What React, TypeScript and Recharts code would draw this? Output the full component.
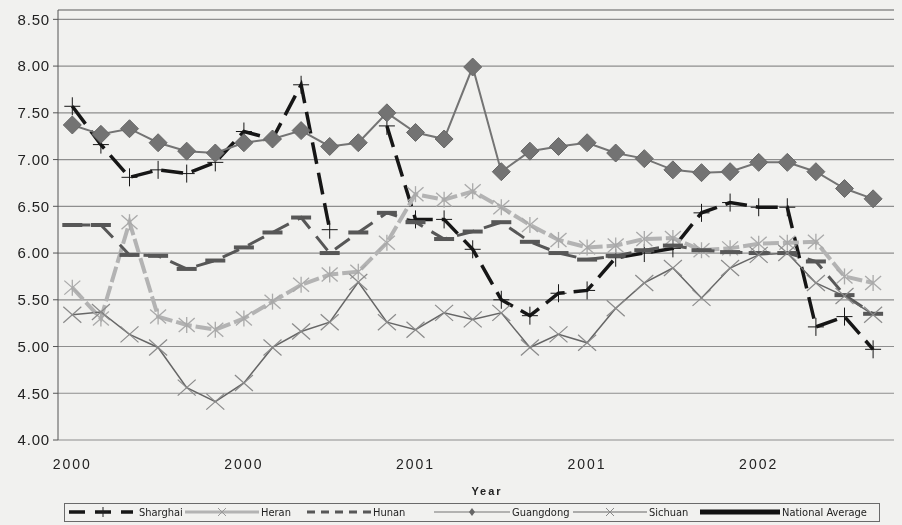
import React from "react";
import {
  ComposedChart,
  Line,
  XAxis,
  YAxis,
  CartesianGrid,
  ReferenceLine,
} from "recharts";

// monthly observations, Jan 2000 .. May 2002
const periods = [
  "2000-01", "2000-02", "2000-03", "2000-04", "2000-05", "2000-06",
  "2000-07", "2000-08", "2000-09", "2000-10", "2000-11", "2000-12",
  "2001-01", "2001-02", "2001-03", "2001-04", "2001-05", "2001-06",
  "2001-07", "2001-08", "2001-09", "2001-10", "2001-11", "2001-12",
  "2002-01", "2002-02", "2002-03", "2002-04", "2002-05",
];

const shanghai = [
  7.57, 7.16, 6.81, 6.89, 6.85, 6.97, 7.3, 7.22, 7.8, 6.25, null, 7.36, 6.36,
  6.36, 6.04, 5.5, 5.33, 5.57, 5.6, 5.95, 6.0, 6.05, 6.43, 6.54, 6.49, 6.49,
  5.21, 5.32, 4.97,
];
const henan = [
  5.63, 5.3, 6.33, 5.32, 5.23, 5.18, 5.3, 5.48, 5.66, 5.77, 5.8, 6.11, 6.63,
  6.57, 6.66, 6.49, 6.3, 6.14, 6.06, 6.08, 6.15, 6.16, 6.03, 6.05, 6.1, 6.11,
  6.12, 5.75, 5.68,
];
const hunan = [
  6.3, 6.3, 5.98, 5.97, 5.83, 5.92, 6.06, 6.22, 6.38, 6.0, 6.22, 6.43, 6.33,
  6.15, 6.23, 6.33, 6.12, 6.0, 5.93, 5.97, 6.03, 6.08, 6.03, 6.01, 6.0, 6.0,
  5.91, 5.55, 5.35,
];
const guangdong = [
  7.37, 7.27, 7.33, 7.18, 7.09, 7.07, 7.18, 7.22, 7.31, 7.14, 7.18, 7.5, 7.29,
  7.22, 7.99, 6.87, 7.09, 7.14, 7.18, 7.07, 7.01, 6.89, 6.86, 6.87, 6.97, 6.97,
  6.87, 6.69, 6.58,
];
const sichuan = [
  5.34, 5.37, 5.13, 4.99, 4.56, 4.41, 4.61, 4.99, 5.16, 5.26, 5.69, 5.26, 5.18,
  5.36, 5.29, 5.36, 4.99, 5.13, 5.04, 5.41, 5.68, 5.84, 5.52, 5.84, 5.98, 6.0,
  5.68, 5.54, 5.34,
];

const yTicks = [4, 4.5, 5, 5.5, 6, 6.5, 7, 7.5, 8, 8.5];
const yearLabelIdx = [0, 6, 12, 18, 24];
const slotCount = 30;

const data = periods.map((p, i) => ({
  x: i + 0.5,
  period: p,
  shanghai: shanghai[i],
  henan: henan[i],
  hunan: hunan[i],
  guangdong: guangdong[i],
  sichuan: sichuan[i],
}));

const slotTicks = Array.from({ length: slotCount + 1 }, (_, i) => i);
const labelTicks = yearLabelIdx.map((i) => i + 0.5);

const C = {
  shanghai: "#161616",
  henan: "#b3b3b3",
  hunan: "#575757",
  guangdong: "#747474",
  sichuan: "#666666",
  grid: "#8e8e8e",
};

const ok = (p: any) => p.cx != null && p.cy != null && p.value != null;

const PlusDot = (p: any) => {
  if (!ok(p)) return <g key={`pl-${p.index}`} />;
  const { cx, cy } = p;
  return (
    <g key={`pl-${p.index}`} stroke={C.shanghai} strokeWidth={1}>
      <line x1={cx - 8} x2={cx + 8} y1={cy} y2={cy} />
      <line x1={cx} x2={cx} y1={cy - 9} y2={cy + 9} />
    </g>
  );
};

const StarDot = (p: any) => {
  if (!ok(p)) return <g key={`st-${p.index}`} />;
  const { cx, cy } = p;
  return (
    <g key={`st-${p.index}`} stroke="#a9a9a9" strokeWidth={1.3}>
      <line x1={cx - 8} x2={cx + 8} y1={cy - 7} y2={cy + 7} />
      <line x1={cx - 8} x2={cx + 8} y1={cy + 7} y2={cy - 7} />
      <line x1={cx} x2={cx} y1={cy - 8} y2={cy + 8} />
    </g>
  );
};

const BarDot = (p: any) => {
  if (!ok(p)) return <g key={`ba-${p.index}`} />;
  const { cx, cy } = p;
  return (
    <rect
      key={`ba-${p.index}`}
      x={cx - 10}
      y={cy - 2}
      width={20}
      height={4}
      fill={C.hunan}
    />
  );
};

const DiamondDot = (p: any) => {
  if (!ok(p)) return <g key={`di-${p.index}`} />;
  const { cx, cy } = p;
  const r = 9;
  return (
    <polygon
      key={`di-${p.index}`}
      points={`${cx},${cy - r} ${cx + r},${cy} ${cx},${cy + r} ${cx - r},${cy}`}
      fill="#737373"
      stroke="#676767"
    />
  );
};

const CrossDot = (p: any) => {
  if (!ok(p)) return <g key={`cr-${p.index}`} />;
  const { cx, cy } = p;
  return (
    <g key={`cr-${p.index}`} stroke="#8a8a8a" strokeWidth={1.2}>
      <line x1={cx - 9} x2={cx + 9} y1={cy - 8} y2={cy + 8} />
      <line x1={cx - 9} x2={cx + 9} y1={cy + 8} y2={cy - 8} />
    </g>
  );
};

const legendItems = [
  { name: "Sharghai", left: 4, w: 68, icon: "shanghai" },
  { name: "Heran", left: 120, w: 74, icon: "henan" },
  { name: "Hunan", left: 234, w: 72, icon: "hunan" },
  { name: "Guangdong", left: 369, w: 76, icon: "guangdong" },
  { name: "Sichuan", left: 508, w: 74, icon: "sichuan" },
  { name: "National Average", left: 635, w: 80, icon: "national" },
];

function LegendIcon({ kind, w }: { kind: string; w: number }) {
  const mid = w / 2;
  return (
    <svg width={w} height={14} style={{ display: "block" }}>
      {kind === "shanghai" && (
        <g>
          <line x1={0} x2={w - 4} y1={7} y2={7} stroke={C.shanghai} strokeWidth={3.5} strokeDasharray="16 10" />
          <line x1={mid - 5} x2={mid + 5} y1={7} y2={7} stroke="#222" />
          <line x1={mid} x2={mid} y1={2} y2={12} stroke="#222" />
        </g>
      )}
      {kind === "henan" && (
        <g>
          <line x1={0} x2={w} y1={7} y2={7} stroke={C.henan} strokeWidth={3} />
          <line x1={mid - 4} x2={mid + 4} y1={3} y2={11} stroke="#999" />
          <line x1={mid - 4} x2={mid + 4} y1={11} y2={3} stroke="#999" />
        </g>
      )}
      {kind === "hunan" && (
        <line x1={8} x2={w} y1={7} y2={7} stroke={C.hunan} strokeWidth={3} strokeDasharray="8 6" />
      )}
      {kind === "guangdong" && (
        <g>
          <line x1={0} x2={w} y1={7} y2={7} stroke={C.guangdong} strokeWidth={1.2} />
          <polygon points={`${mid},3 ${mid + 3},7 ${mid},11 ${mid - 3},7`} fill="#666" />
        </g>
      )}
      {kind === "sichuan" && (
        <g>
          <line x1={0} x2={w} y1={7} y2={7} stroke={C.sichuan} strokeWidth={1.2} />
          <line x1={mid - 4} x2={mid + 4} y1={3} y2={11} stroke="#888" />
          <line x1={mid - 4} x2={mid + 4} y1={11} y2={3} stroke="#888" />
        </g>
      )}
      {kind === "national" && (
        <line x1={0} x2={w} y1={7} y2={7} stroke="#111" strokeWidth={5} />
      )}
    </svg>
  );
}

export default function App() {
  return (
    <div style={{ position: "relative", width: 894, height: 517, overflow: "hidden" }}>
      <div style={{ position: "fixed", inset: 0, background: "#f1f1ef", zIndex: -1 }} />
      <ComposedChart
        width={920}
        height={517}
        data={data}
        margin={{ top: 2, right: 12, bottom: 30, left: 0 }}
      >
        <CartesianGrid horizontal vertical={false} stroke={C.grid} strokeWidth={1.2} />
        <ReferenceLine
          xAxisId="slots"
          y={8.6}
          stroke={C.grid}
          strokeWidth={1.2}
        />
        <YAxis
          type="number"
          domain={[4, 8.6]}
          ticks={yTicks}
          allowDataOverflow
          width={50}
          tickSize={5}
          tickMargin={3}
          tickFormatter={(v: number) => v.toFixed(2)}
          tick={{
            fill: "#222",
            fontSize: 15,
            letterSpacing: 0.8,
            fontFamily: "Liberation Sans, Arial, sans-serif",
          }}
          axisLine={{ stroke: "#555" }}
          tickLine={{ stroke: "#555" }}
        />
        <XAxis
          xAxisId="slots"
          type="number"
          dataKey="x"
          domain={[0, slotCount]}
          ticks={slotTicks}
          interval={0}
          height={0}
          tick={false}
          tickSize={5}
          axisLine={{ stroke: "#555" }}
          tickLine={{ stroke: "#555" }}
        />
        <XAxis
          xAxisId="years"
          type="number"
          dataKey="x"
          domain={[0, slotCount]}
          ticks={labelTicks}
          interval={0}
          height={55}
          tickSize={0}
          tickMargin={19}
          axisLine={false}
          tickLine={false}
          tickFormatter={(v: number) => periods[Math.floor(v)].slice(0, 4)}
          tick={{
            fill: "#222",
            fontSize: 14,
            letterSpacing: 2,
            fontFamily: "Liberation Sans, Arial, sans-serif",
          }}
          label={{
            value: "Year",
            position: "insideBottom",
            offset: 0,
            fill: "#222",
            fontSize: 11,
            fontWeight: "bold",
            letterSpacing: 2,
            fontFamily: "Liberation Sans, Arial, sans-serif",
          }}
        />
        <Line
          xAxisId="slots"
          dataKey="shanghai"
          stroke={C.shanghai}
          strokeWidth={3.5}
          strokeDasharray="22 9"
          dot={PlusDot}
          connectNulls={false}
          isAnimationActive={false}
        />
        <Line
          xAxisId="slots"
          dataKey="henan"
          stroke={C.henan}
          strokeWidth={4}
          strokeDasharray="16 4"
          dot={StarDot}
          isAnimationActive={false}
        />
        <Line
          xAxisId="slots"
          dataKey="hunan"
          stroke={C.hunan}
          strokeWidth={3}
          strokeDasharray="18 10"
          dot={BarDot}
          isAnimationActive={false}
        />
        <Line
          xAxisId="slots"
          dataKey="guangdong"
          stroke={C.guangdong}
          strokeWidth={2}
          dot={DiamondDot}
          isAnimationActive={false}
        />
        <Line
          xAxisId="slots"
          dataKey="sichuan"
          stroke={C.sichuan}
          strokeWidth={1.5}
          dot={CrossDot}
          isAnimationActive={false}
        />
      </ComposedChart>
      <div
        style={{
          position: "absolute",
          left: 56,
          top: 495,
          width: 816,
          height: 19,
          border: "1px solid #6a6a6a",
          fontFamily: "Liberation Sans Narrow, DejaVu Sans Condensed, Arial, sans-serif",
          fontSize: 11,
          color: "#222",
          boxSizing: "border-box",
        }}
      >
        {legendItems.map((it) => (
          <div
            key={it.name}
            style={{
              position: "absolute",
              left: it.left,
              top: 1,
              display: "flex",
              alignItems: "center",
            }}
          >
            <LegendIcon kind={it.icon} w={it.w} />
            <span style={{ marginLeft: 2, whiteSpace: "nowrap" }}>{it.name}</span>
          </div>
        ))}
      </div>
    </div>
  );
}
